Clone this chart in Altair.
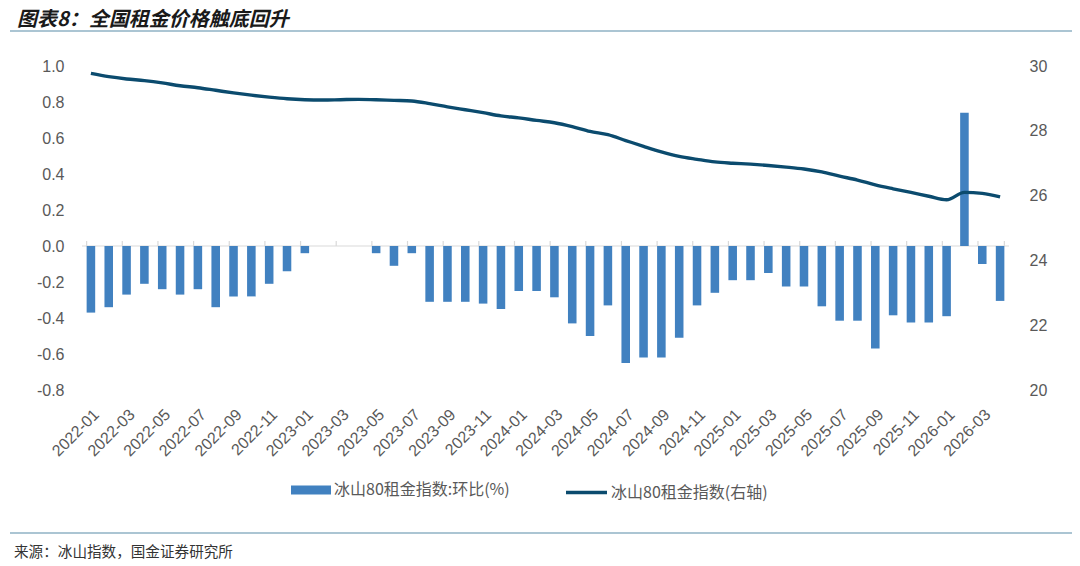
import altair as alt
import pandas as pd

# ---------------- data ----------------
months = [f"{y}-{m:02d}" for y in range(2022, 2027) for m in range(1, 13)][:52]  # 2022-01 .. 2026-04
label_months = months[::2]

mom_change = [
    -0.37, -0.34, -0.27, -0.21, -0.24, -0.27, -0.24, -0.34, -0.28, -0.28, -0.21, -0.14,   # 2022
    -0.04, 0.0, 0.0, 0.0, -0.04, -0.11, -0.04, -0.31, -0.31, -0.31, -0.32, -0.35,        # 2023
    -0.25, -0.25, -0.285, -0.43, -0.50, -0.33, -0.65, -0.62, -0.62, -0.51, -0.33, -0.26, # 2024
    -0.19, -0.19, -0.15, -0.225, -0.225, -0.335, -0.415, -0.415, -0.57, -0.385, -0.425, -0.425,  # 2025
    -0.39, 0.74, -0.10, -0.305,                                                           # 2026
]
index_level = [
    29.77, 29.67, 29.60, 29.55, 29.48, 29.39, 29.33, 29.25, 29.17, 29.10, 29.04, 28.99,
    28.96, 28.95, 28.96, 28.97, 28.96, 28.94, 28.92, 28.84, 28.74, 28.65, 28.56, 28.46,
    28.40, 28.32, 28.25, 28.13, 27.98, 27.88, 27.70, 27.52, 27.35, 27.21, 27.12, 27.04,
    27.00, 26.97, 26.93, 26.88, 26.82, 26.73, 26.60, 26.48, 26.33, 26.21, 26.10, 25.98,
    25.87, 26.10, 26.07, 25.96,
]
left_ticks = [-0.8, -0.6, -0.4, -0.2, 0.0, 0.2, 0.4, 0.6, 0.8, 1.0]
right_ticks = [20, 22, 24, 26, 28, 30]

BAR_NAME = "冰山80租金指数:环比(%)"
LINE_NAME = "冰山80租金指数(右轴)"
TITLE = "图表8：全国租金价格触底回升"
SOURCE = "来源：冰山指数，国金证券研究所"

# ---------------- style ----------------
W, H = 927, 324
PAD_L, PAD_T, PAD_R, PAD_B = 74, 58, 63, 180
BAR_COLOR = "#4181C0"
LINE_COLOR = "#0B4B6E"
AXIS_TXT = "#595959"
LATIN = "Liberation Sans"
CJK = "Noto Sans CJK SC"
RULE_COLOR = "#8FB2C4"
TICK_LEN = 0.028  # axis-tick length in left-axis units (about 5 px)

df = pd.DataFrame({
    "month": months,
    "change": mom_change,
    "index": index_level,
    "s1": BAR_NAME,
    "s2": LINE_NAME,
})

x_scale = alt.Scale(domain=months, paddingInner=0.52, paddingOuter=0.26)
left_scale = alt.Scale(domain=[-0.8, 1.0], nice=False, zero=False)
right_scale = alt.Scale(domain=[20, 30], nice=False, zero=False)

x_axis = alt.Axis(
    values=label_months, labelAngle=-45, labelAlign="right", labelBaseline="top",
    labelPadding=16, ticks=False, domain=False, grid=False, title=None,
    labelFont=LATIN, labelFontSize=16, labelColor=AXIS_TXT, labelOverlap=False,
)
left_axis = alt.Axis(
    values=left_ticks, title=None, ticks=False, domain=False, grid=False,
    labelExpr="datum.value < 0 ? '-' + format(-datum.value, '.1f') : format(datum.value, '.1f')",
    labelFont=LATIN, labelFontSize=16, labelColor=AXIS_TXT, labelPadding=18,
    labelOverlap=False, labelFlush=False,
)
right_axis = alt.Axis(
    orient="right", values=right_ticks, title=None, ticks=False, domain=False, grid=False,
    labelFont=LATIN, labelFontSize=16, labelColor=AXIS_TXT, labelPadding=20,
    labelOverlap=False, labelFlush=False,
)

legend_common = dict(
    title=None, orient="none", legendY=404, padding=0,
    labelFont=CJK, labelFontSize=16, labelColor=AXIS_TXT, labelLimit=400,
)

bars = alt.Chart(df).mark_bar(color=BAR_COLOR).encode(
    x=alt.X("month:O", scale=x_scale, axis=x_axis, title=None),
    y=alt.Y("change:Q", scale=left_scale, axis=left_axis, title=None),
    color=alt.Color(
        "s1:N",
        scale=alt.Scale(domain=[BAR_NAME], range=[BAR_COLOR]),
        legend=alt.Legend(
            legendX=209, symbolType="M-1,-0.23H1V0.23H-1Z", symbolSize=1600,
            symbolStrokeWidth=0, labelOffset=3, **legend_common,
        ),
    ),
)

zero_rule = alt.Chart(pd.DataFrame({"z": [0.0]})).mark_rule(color="#D9D9D9", strokeWidth=1.2).encode(
    y=alt.Y("z:Q", scale=left_scale, axis=left_axis, title=None),
    x=alt.value(0),
    x2=alt.value(W),
)

tick_df = pd.DataFrame({"month": label_months, "t0": 0.0, "t1": TICK_LEN})
tick_rules = alt.Chart(tick_df).mark_rule(color="#D9D9D9", strokeWidth=1.2).encode(
    x=alt.X("month:O", scale=x_scale, axis=x_axis, title=None, bandPosition=0),
    y=alt.Y("t0:Q", scale=left_scale, axis=left_axis, title=None),
    y2="t1:Q",
)
end_df = pd.DataFrame({"month": [months[-1]], "t0": 0.0, "t1": TICK_LEN})
end_tick = alt.Chart(end_df).mark_rule(color="#D9D9D9", strokeWidth=1.2).encode(
    x=alt.X("month:O", scale=x_scale, axis=x_axis, title=None, bandPosition=1),
    y=alt.Y("t0:Q", scale=left_scale, axis=left_axis, title=None),
    y2="t1:Q",
)

deco_rules = alt.Chart(pd.DataFrame({"ry": [-35, 467]})).mark_rule(color=RULE_COLOR, strokeWidth=1.5).encode(
    y=alt.Y("ry:Q", scale=None),
    x=alt.value(-72),
    x2=alt.value(W + PAD_R),
)

title_txt = alt.Chart(pd.DataFrame({"t": [TITLE]})).mark_text(
    align="left", baseline="alphabetic", font=CJK, fontSize=20, fontWeight="bold",
    fontStyle="italic", color="#1A1A1A",
).encode(text="t:N", x=alt.value(-65), y=alt.value(-40))

source_txt = alt.Chart(pd.DataFrame({"t": [SOURCE]})).mark_text(
    align="left", baseline="alphabetic", font=CJK, fontSize=14.6, color="#333333",
).encode(text="t:N", x=alt.value(-68), y=alt.value(491))

left_layer = alt.layer(zero_rule, tick_rules, end_tick, bars, deco_rules, title_txt, source_txt)

line = alt.Chart(df).mark_line(strokeWidth=3.4, interpolate="monotone").encode(
    x=alt.X("month:O", scale=x_scale, axis=x_axis, title=None),
    y=alt.Y("index:Q", scale=right_scale, axis=right_axis, title=None),
    stroke=alt.Stroke(
        "s2:N",
        scale=alt.Scale(domain=[LINE_NAME], range=[LINE_COLOR]),
        legend=alt.Legend(
            legendX=482, symbolType="stroke", symbolSize=1681, symbolStrokeWidth=3.4,
            labelOffset=2, **legend_common,
        ),
    ),
)

chart = alt.layer(left_layer, line).resolve_scale(y="independent").properties(
    width=W, height=H,
    autosize=alt.AutoSizeParams(type="none"),
    padding={"left": PAD_L, "top": PAD_T, "right": PAD_R, "bottom": PAD_B},
    background="white",
).configure_view(strokeWidth=0).configure_axis(labelOverlap=False)

chart.save("out.html", embed_options={"renderer": "svg", "actions": False})
